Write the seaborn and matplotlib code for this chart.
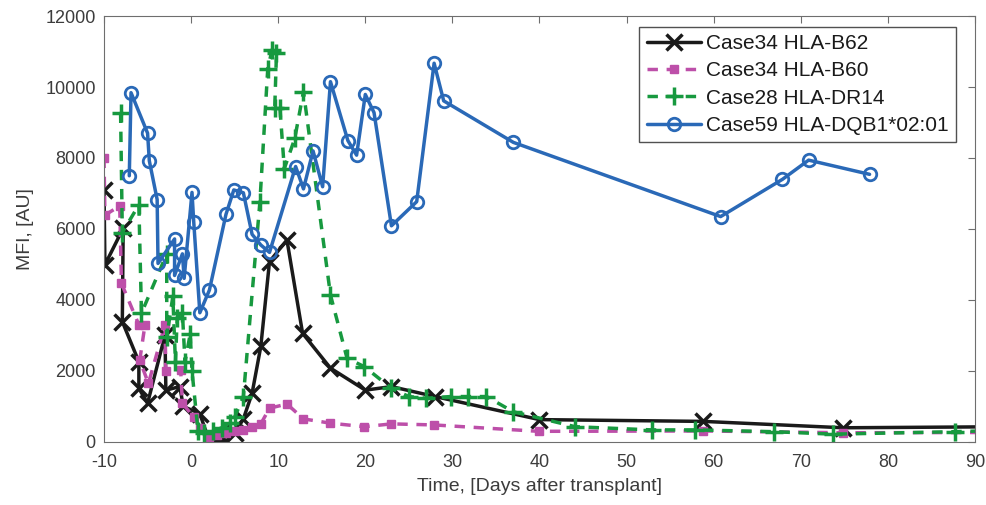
import matplotlib
matplotlib.use("Agg")
import matplotlib.pyplot as plt
import seaborn as sns

# Case34 HLA-B62
b62_days = [-10, -9.9, -7.8, -7.9, -6.0, -6.0, -5.0, -3.0, -2.9, -1.3, -0.9, 1.0, 2.0, 3.0,
            4.0, 5.0, 6.0, 7.0, 8.0, 9.0, 11.0, 12.8, 16.0, 20.0, 23.0, 28.0, 40.0, 58.8,
            74.9, 100]
b62_mfi = [7100, 4990, 6020, 3390, 2260, 1510, 1090, 3010, 1460, 1560, 1000, 800, 80, 30,
           20, 250, 650, 1370, 2690, 5080, 5690, 3060, 2080, 1460, 1560, 1280, 630, 580,
           400, 440]

# Case34 HLA-B60
b60_days = [-10, -9.9, -8.2, -8.0, -6.0, -5.3, -5.9, -4.9, -3.0, -2.9, -1.2, -1.0, 0.3,
            1.0, 2.0, 3.0, 4.0, 5.0, 6.0, 7.0, 8.0, 9.0, 11.0, 12.9, 16.0, 19.9, 23.0,
            27.9, 39.9, 58.8, 74.9, 100]
b60_mfi = [8010, 6390, 6650, 4470, 3300, 3300, 2300, 1650, 3300, 2000, 2030, 1090, 700,
           400, 150, 200, 250, 300, 350, 420, 510, 950, 1070, 650, 530, 430, 510, 480,
           300, 310, 260, 270]

# Case28 HLA-DR14
dr14_days = [-8.1, -7.9, -6.0, -5.7, -2.8, -2.8, -2.1, -1.8, -1.6, -1.0, -0.7, -0.1, 0.1,
             0.8, 1.5, 2.5, 3.5, 4.5, 5.0, 6.0, 7.9, 8.8, 9.3, 9.8, 9.6, 10.2, 10.7, 11.9,
             12.9, 16.0, 17.9, 19.9, 23.0, 25.0, 27.0, 29.8, 31.8, 33.9, 37.0, 44.1, 52.9,
             57.9, 66.9, 73.7, 87.7, 95]
dr14_mfi = [9280, 5900, 6680, 3630, 5300, 2950, 4100, 2250, 3500, 3630, 2250, 3050, 2000,
            300, 250, 300, 400, 530, 700, 1280, 6770, 10520, 11050, 10950, 9400, 9400,
            7700, 8550, 9870, 4140, 2360, 2120, 1510, 1280, 1230, 1280, 1280, 1280, 850,
            430, 340, 340, 290, 220, 290, 340]

# Case59 HLA-DQB1*02:01
dqb1_days = [-7.1, -6.9, -5.0, -4.8, -3.9, -3.8, -1.9, -1.9, -1.0, -0.8, 0.1, 0.3, 1.0,
             2.1, 4.0, 4.9, 6.0, 7.0, 8.0, 9.0, 12.0, 12.9, 14.0, 15.1, 16.0, 18.0, 19.0,
             20.0, 21.0, 23.0, 25.9, 27.9, 29.0, 37.0, 60.8, 67.9, 70.9, 77.9]
dqb1_mfi = [7500, 9840, 8700, 7920, 6830, 5030, 5720, 4690, 5300, 4610, 7030, 6200, 3640,
            4280, 6410, 7100, 7020, 5850, 5550, 5340, 7760, 7130, 8200, 7190, 10150, 8490,
            8080, 9790, 9280, 6090, 6770, 10670, 9610, 8440, 6350, 7400, 7940, 7540]

sns.set_style("white")
plt.rcParams["font.family"] = ["Liberation Sans", "DejaVu Sans"]
plt.rcParams["axes.unicode_minus"] = False

fig = plt.figure(figsize=(9.87, 5.05), dpi=100)
ax = fig.add_axes([0.1054, 0.1248, 0.8824, 0.8435])

black = "#1a1a1a"
pink = "#bd4fa9"
green = "#17993f"
blue = "#2a69b7"

sns.lineplot(x=b62_days, y=b62_mfi, sort=False, estimator=None, ax=ax,
             color=black, lw=2.5, marker="x", markersize=11, mew=2.5, mec=black,
             label="Case34 HLA-B62")
sns.lineplot(x=b60_days, y=b60_mfi, sort=False, estimator=None, ax=ax,
             color=pink, lw=2.5, ls=(0, (3, 2.5)), marker="s", markersize=5.5,
             mew=1, mec=pink, mfc=pink, label="Case34 HLA-B60")
sns.lineplot(x=dr14_days, y=dr14_mfi, sort=False, estimator=None, ax=ax,
             color=green, lw=2.5, ls=(0, (3, 2.5)), marker="+", markersize=13,
             mew=2.5, mec=green, label="Case28 HLA-DR14")
sns.lineplot(x=dqb1_days, y=dqb1_mfi, sort=False, estimator=None, ax=ax,
             color=blue, lw=2.5, marker="o", markersize=9, mew=2, mec=blue,
             mfc="none", label="Case59 HLA-DQB1*02:01")

ax.set_xlim(-10, 90)
ax.set_ylim(0, 12000)
ax.set_xticks(range(-10, 91, 10))
ax.set_yticks(range(0, 12001, 2000))
ax.tick_params(direction="in", length=5, width=0.8, colors="#6e6e6e",
               labelcolor="#3c3c3c", labelsize=13, top=True, right=True)
ax.tick_params(axis="x", pad=9)
ax.tick_params(axis="y", pad=6)
for s in ax.spines.values():
    s.set_color("#6e6e6e")
    s.set_linewidth(0.8)

ax.set_xlabel("Time, [Days after transplant]", fontsize=14, color="#3c3c3c",
              labelpad=5)
ax.set_ylabel("MFI, [AU]", fontsize=14, color="#3c3c3c", labelpad=8)

leg = ax.legend(loc="upper right", bbox_to_anchor=(0.983, 0.985), fontsize=15,
                frameon=True, fancybox=False, handlelength=2.6, labelspacing=0.4,
                borderpad=0.35, handletextpad=0.25, borderaxespad=0.2)
leg.get_frame().set_edgecolor("#262626")
leg.get_frame().set_linewidth(1.0)
for t in leg.get_texts():
    t.set_color("#1a1a1a")

fig.savefig("out.png", dpi=100)
